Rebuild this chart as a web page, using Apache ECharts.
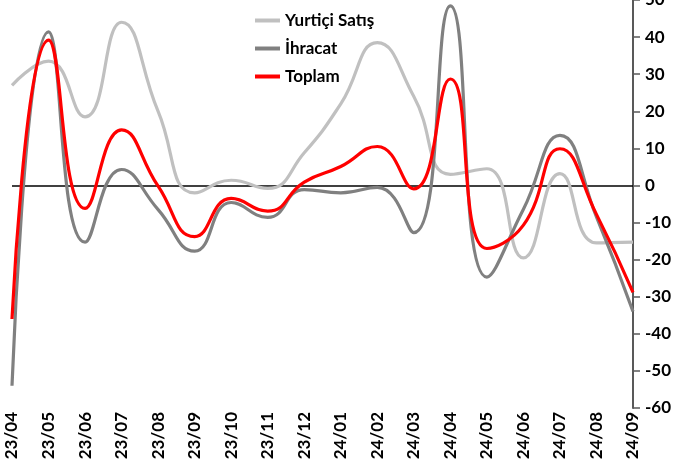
<!DOCTYPE html>
<html>
<head>
<meta charset="utf-8">
<script src="https://cdn.jsdelivr.net/npm/echarts@6/dist/echarts.min.js"></script>
<style>
  html, body { margin: 0; padding: 0; background: #fff; }
  #chart { width: 693px; height: 473px; }
</style>
</head>
<body>
<div id="chart"></div>
<script>
// aylar
const months = ['23/04', '23/05', '23/06', '23/07', '23/08', '23/09', '23/10', '23/11', '23/12',
  '24/01', '24/02', '24/03', '24/04', '24/05', '24/06', '24/07', '24/08', '24/09']

// seriler
const yurtici = [27, 33.5, 18.5, 44, 20, -2, 1.4, -0.8, 8.8, 22, 38.5, 24, 3, 4.5, -19.5, 3.2, -15.5, -15.3]
const ihracat = [-54, 41.4, -15.3, 4.3, -6.5, -17.7, -4.6, -8.6, -1.1, -2, -0.5, -12.7, 48.4, -24.7, -6.4, 13.5, -8.5, -34]
const toplam = [-36, 39.2, -6.2, 15, -0.2, -13.8, -3.5, -6.9, 0.9, 5.1, 10.5, -0.9, 28.7, -17, -10.7, 9.9, -7.8, -28.8]

const yTicks = { min: -60, max: 50, interval: 10 }

const chart = echarts.init(document.getElementById('chart'))

const fontFamily = 'Lato, "Open Sans", sans-serif'

const lineSeries = (name, data, color) => ({
  name: name,
  type: 'line',
  data: data,
  smooth: 0.5,
  symbol: 'none',
  lineStyle: { color: color, width: 3.2 },
  itemStyle: { color: color },
  z: name === 'Toplam' ? 4 : 3
})

const option = {
  animation: false,
  backgroundColor: '#ffffff',
  grid: { left: 12, right: 60, top: 0, bottom: 65, outerBoundsMode: 'none', containLabel: false },
  legend: {
    orient: 'vertical',
    left: 250,
    top: 7,
    icon: 'rect',
    itemWidth: 25,
    itemHeight: 4,
    itemGap: 11,
    textStyle: { fontFamily: fontFamily, fontWeight: 'bold', fontSize: 17, color: '#000' },
    data: ['Yurtiçi Satış', 'İhracat', 'Toplam']
  },
  xAxis: {
    type: 'category',
    data: months,
    boundaryGap: false,
    axisLine: { show: false },
    axisTick: { show: false },
    axisLabel: {
      rotate: 90,
      margin: 4,
      interval: 0,
      fontFamily: fontFamily,
      fontWeight: 'bold',
      fontSize: 17,
      color: '#000'
    },
    splitLine: { show: false }
  },
  yAxis: {
    type: 'value',
    position: 'right',
    min: yTicks.min,
    max: yTicks.max,
    interval: yTicks.interval,
    axisLine: { show: true, lineStyle: { color: '#595959', width: 2 } },
    axisTick: { show: true, inside: false, length: 7, lineStyle: { color: '#595959', width: 1.5 } },
    axisLabel: {
      margin: 12,
      fontFamily: fontFamily,
      fontWeight: 'bold',
      fontSize: 17,
      color: '#000'
    },
    splitLine: { show: false }
  },
  series: [
    lineSeries('Yurtiçi Satış', yurtici, '#c0c0c0'),
    lineSeries('İhracat', ihracat, '#808080'),
    Object.assign(lineSeries('Toplam', toplam, '#ff0000'), {
      markLine: {
        silent: true,
        symbol: 'none',
        label: { show: false },
        lineStyle: { color: '#000', width: 1.5, type: 'solid' },
        data: [{ yAxis: 0 }],
        z: 1
      }
    })
  ]
}

chart.setOption(option)
</script>
</body>
</html>
